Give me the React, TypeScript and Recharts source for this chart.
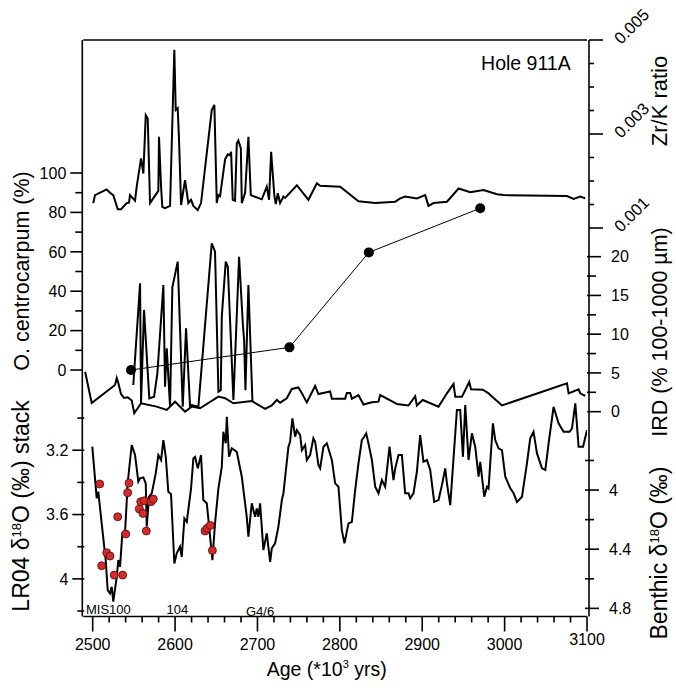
import { ComposedChart, Line, Scatter, XAxis, YAxis, ReferenceLine } from 'recharts';

// Zr/K ratio (Hole 911A) — [age ka, ratio]
const zrK: [number, number][] = [
  [2500.7, 0.00153], [2502.8, 0.0017], [2517.0, 0.00182], [2521.0, 0.00175], [2525.0, 0.0017],
  [2530.4, 0.0014], [2534.4, 0.0014], [2541.3, 0.00153], [2544.1, 0.00154], [2545.3, 0.0017],
  [2551.4, 0.00158], [2553.4, 0.00188], [2558.7, 0.00248], [2561.5, 0.00216], [2564.4, 0.0034],
  [2566.8, 0.00333], [2569.6, 0.00153], [2579.7, 0.00179], [2580.5, 0.00294], [2583.0, 0.00188],
  [2584.5, 0.00145], [2587.8, 0.00142], [2593.9, 0.00147], [2599.1, 0.00479], [2600.8, 0.00351],
  [2603.2, 0.00355], [2604.8, 0.00287], [2607.3, 0.00149], [2612.1, 0.00202], [2616.1, 0.00153],
  [2619.4, 0.0016], [2622.2, 0.00147], [2627.5, 0.00138], [2631.5, 0.00153], [2644.5, 0.00351],
  [2647.7, 0.00362], [2650.6, 0.00153], [2652.6, 0.0017], [2654.6, 0.00168], [2660.7, 0.00246],
  [2664.0, 0.00257], [2666.8, 0.00255], [2668.0, 0.00262], [2670.0, 0.0016], [2672.8, 0.00158],
  [2674.9, 0.0028], [2676.8, 0.00286], [2679.8, 0.0027], [2681.0, 0.00153], [2685.0, 0.00175],
  [2689.0, 0.00294], [2691.9, 0.0017], [2705.3, 0.00161], [2711.3, 0.00188], [2714.1, 0.0016],
  [2716.6, 0.00262], [2720.6, 0.00167], [2722.3, 0.00151], [2724.7, 0.00174], [2727.5, 0.00153],
  [2731.5, 0.00167], [2733.6, 0.00164], [2747.8, 0.00191], [2761.9, 0.0016], [2772.1, 0.00195],
  [2776.1, 0.0019], [2800.4, 0.00188], [2822.6, 0.00157], [2842.9, 0.00153], [2867.2, 0.00156],
  [2873.3, 0.00163], [2879.3, 0.00167], [2893.5, 0.00163], [2903.6, 0.0017], [2907.6, 0.00147],
  [2913.7, 0.00153], [2930.0, 0.00156], [2944.1, 0.00184], [2958.3, 0.00176], [2974.4, 0.00181],
  [2990.7, 0.00172], [2998.7, 0.0017], [3075.7, 0.00168], [3083.7, 0.00162], [3091.8, 0.00167],
  [3097.9, 0.00163],
];

// O. centrocarpum (%)
const oCent: [number, number][] = [
  [2549.3, -7.6], [2557.5, 44.0], [2558.7, -16.9], [2562.3, 30.5], [2568.7, -14.4], [2574.5, -13.6],
  [2578.5, -1.7], [2585.8, 43.1], [2587.8, -8.5], [2589.9, 11.0], [2593.9, -18.6], [2596.7, 42.0],
  [2603.2, 55.0], [2609.3, -18.6], [2613.3, 21.2], [2618.2, -18.6], [2620.2, -17.8], [2628.3, -18.6],
  [2644.5, 64.3], [2648.5, 60.1], [2652.6, -11.0], [2655.5, -10.2], [2656.7, 27.1], [2661.5, 55.0],
  [2664.0, 52.4], [2670.8, -15.2], [2677.7, 57.5], [2682.2, 23.7], [2683.8, 15.2], [2685.4, -10.2],
  [2689.0, 43.1], [2693.9, -16.1],
];

// sparse samples, black dots
const oCentDots: [number, number][] = [
  [2546.5, 0], [2738.8, 11.5], [2835.2, 59.7], [2970.4, 82.1],
];

// IRD (% 100-1000 µm)
const ird: [number, number][] = [
  [2490.8, 5.16], [2498.8, 1.12], [2527.1, 3.45], [2529.2, 4.35], [2531.1, 3.7], [2534.4, 2.28],
  [2538.0, 1.77], [2542.5, 1.86], [2547.4, 1.45], [2550.5, -0.21], [2558.7, 1.08], [2577.7, 0.65],
  [2589.9, 0.22], [2600.0, 1.29], [2612.1, 0.0], [2620.2, 0.65], [2630.3, 0.44], [2652.6, 1.94],
  [2660.7, 1.73], [2670.8, 1.08], [2693.1, 1.38], [2709.3, 0.35], [2717.4, 0.8], [2723.5, 1.51],
  [2727.5, 1.16], [2735.6, 1.73], [2741.7, 2.93], [2749.7, 3.12], [2753.9, 2.37], [2759.9, 1.19],
  [2770.0, 3.32], [2774.0, 2.28], [2788.2, 2.61], [2790.3, 1.68], [2806.4, 1.68], [2808.5, 2.41],
  [2812.5, 2.41], [2814.6, 1.68], [2822.6, 2.15], [2828.7, 0.93], [2838.9, 1.21], [2846.9, 1.29],
  [2849.0, 2.15], [2862.3, 1.38], [2869.2, 0.99], [2883.3, 0.8], [2891.5, 1.99], [2893.5, 0.8],
  [2900.6, 1.51], [2919.8, 0.65], [2930.0, 2.37], [2938.0, 3.57], [2940.1, 1.94], [2948.2, 1.94],
  [2957.1, 3.83], [2959.2, 2.9], [2973.5, 2.84], [2980.5, 2.37], [2982.6, 2.15], [2996.8, 0.8],
  [3075.7, 3.66], [3077.7, 2.37], [3089.8, 2.89], [3091.8, 2.37], [3097.9, 2.03],
];

// LR04 benthic d18O stack
const lr04: [number, number][] = [
  [2499.5, 3.178], [2504.9, 3.499], [2506.8, 3.458], [2510.9, 3.655], [2515.8, 3.883], [2518.2, 4.07],
  [2521.0, 4.09], [2523.1, 4.049], [2525.0, 4.142], [2529.2, 3.987], [2531.1, 3.883], [2533.2, 3.925],
  [2536.0, 3.717], [2539.2, 3.717], [2542.5, 3.406], [2544.1, 3.323], [2547.4, 3.168], [2551.4, 3.23],
  [2555.4, 3.396], [2557.5, 3.375], [2561.5, 3.369], [2564.4, 3.406], [2565.6, 3.676], [2568.4, 3.489],
  [2571.7, 3.468], [2576.5, 3.344], [2579.7, 3.23], [2583.0, 3.261], [2585.8, 3.137], [2588.7, 3.241],
  [2591.8, 3.458], [2595.1, 3.473], [2599.1, 3.904], [2602.0, 3.841], [2606.0, 3.8], [2608.1, 3.863],
  [2611.3, 3.624], [2614.2, 3.645], [2619.4, 3.437], [2622.2, 3.251], [2624.3, 3.241], [2627.5, 3.313],
  [2631.5, 3.23], [2634.3, 3.51], [2638.5, 3.53], [2644.5, 3.841], [2645.3, 3.883], [2648.5, 3.655],
  [2652.6, 3.437], [2656.7, 3.303], [2658.6, 3.085], [2661.5, 3.157], [2662.8, 2.992], [2665.5, 3.241],
  [2668.8, 3.188], [2674.9, 3.21], [2681.0, 3.365], [2687.0, 3.614], [2689.0, 3.738], [2693.1, 3.53],
  [2697.1, 3.614], [2699.2, 3.562], [2701.1, 3.614], [2703.2, 3.53], [2707.2, 3.821], [2711.3, 3.717],
  [2715.4, 3.894], [2717.4, 3.81], [2721.4, 3.779], [2725.4, 3.676], [2729.6, 3.51], [2731.5, 3.468],
  [2737.6, 3.178], [2739.6, 3.147], [2742.4, 3.002], [2745.7, 3.116], [2747.8, 3.075], [2751.8, 3.106],
  [2753.9, 3.199], [2757.9, 3.168], [2759.9, 3.261], [2763.9, 3.23], [2767.9, 3.126], [2770.0, 3.147],
  [2774.0, 3.292], [2776.1, 3.313], [2780.1, 3.178], [2784.2, 3.157], [2790.3, 3.261], [2794.3, 3.406],
  [2798.3, 3.427], [2802.4, 3.697], [2805.6, 3.779], [2810.5, 3.655], [2814.6, 3.645], [2818.6, 3.448],
  [2822.6, 3.282], [2826.7, 3.137], [2829.5, 3.116], [2832.0, 3.095], [2834.7, 3.157], [2838.9, 3.261],
  [2842.9, 3.427], [2846.9, 3.468], [2851.0, 3.386], [2855.0, 3.427], [2860.3, 3.178], [2865.1, 3.386],
  [2867.2, 3.313], [2871.2, 3.23], [2875.3, 3.23], [2879.3, 3.468], [2883.3, 3.468], [2885.4, 3.499],
  [2889.4, 3.468], [2893.5, 3.334], [2897.5, 3.106], [2901.5, 3.272], [2905.7, 3.261], [2909.7, 3.323],
  [2914.5, 3.521], [2919.8, 3.51], [2923.9, 3.417], [2927.9, 3.313], [2930.0, 3.406], [2934.0, 3.541],
  [2942.1, 2.95], [2946.1, 2.95], [2949.4, 3.241], [2952.2, 2.919], [2956.2, 3.261], [2960.3, 3.095],
  [2964.3, 3.178], [2968.4, 3.365], [2970.4, 3.272], [2975.3, 3.489], [2978.6, 3.427], [2980.5, 3.437],
  [2985.8, 3.033], [2988.6, 3.137], [2992.6, 3.188], [2996.8, 3.199], [3000.8, 3.365], [3006.9, 3.437],
  [3010.9, 3.468], [3015.0, 3.521], [3021.1, 3.489], [3027.1, 3.282], [3031.1, 3.126], [3035.1, 3.085],
  [3039.3, 3.22], [3045.4, 3.313], [3049.4, 3.323], [3053.4, 3.157], [3059.4, 2.93], [3065.5, 3.033],
  [3071.6, 3.085], [3078.9, 3.085], [3081.8, 3.064], [3085.8, 2.909], [3089.8, 3.178], [3095.2, 3.178],
  [3100.0, 3.075],
];

// Hole 911A benthic d18O (red dots)
const benthic: [number, number][] = [
  [2508.5, 3.959], [2510.9, 4.512], [2517.0, 4.424], [2521.0, 4.446], [2526.2, 4.575], [2530.4, 4.181],
  [2536.4, 4.575], [2540.1, 4.297], [2542.5, 4.018], [2544.1, 3.953], [2556.6, 4.128], [2558.3, 4.079],
  [2561.1, 4.158], [2562.7, 4.072], [2565.1, 4.277], [2570.8, 4.079], [2573.6, 4.061], [2636.4, 4.277],
  [2638.8, 4.259], [2642.8, 4.239], [2645.3, 4.408],
];

// axis ticks
const xMajor = [2500, 2600, 2700, 2800, 2900, 3000, 3100];
const xTicks = Array.from({ length: 31 }, (_, i) => 2500 + i * 20);
const ocTicks = [0, 10, 20, 30, 40, 50, 60, 70, 80, 90, 100];
const ocLabels = [0, 20, 40, 60, 80, 100];
const lrTicks = [3.0, 3.2, 3.4, 3.6, 3.8, 4.0, 4.2];
const lrLabels = [3.2, 3.6, 4.0];
const zrTicks = [0.001, 0.0015, 0.002, 0.0025, 0.003, 0.0035, 0.004, 0.0045, 0.005];
const zrLabels = [0.001, 0.003, 0.005];
const irdTicks = [0, 2.5, 5, 7.5, 10, 12.5, 15, 17.5, 20];
const irdLabels = [0, 5, 10, 15, 20];
const bnTicks = [3.8, 4.0, 4.2, 4.4, 4.6, 4.8];
const bnLabels = [4.0, 4.4, 4.8];

const rows = (pts: [number, number][]) => pts.map(([age, v]) => ({ age, v }));
const isIn = (v: number, list: number[]) => list.some((l) => Math.abs(l - v) < 1e-9);
const FONT = 'Arial, "Liberation Sans", sans-serif';
const ST = 1.6;

const LeftTick = (props: any) => {
  const { y, payload, labels, fmt, shift } = props;
  const x = props.x + shift;
  const v = payload.value;
  const major = isIn(v, labels);
  return (
    <g>
      <line x1={x - (major ? 12 : 7)} x2={x} y1={y} y2={y} stroke="#000" strokeWidth={ST} />
      {major && (
        <text x={x - 16} y={y} dy="0.36em" textAnchor="end" fontSize={16} fill="#000" fontFamily={FONT}>{fmt(v)}</text>
      )}
    </g>
  );
};

const RightTick = (props: any) => {
  const { y, payload, labels, fmt, minor, rotate, shift } = props;
  const x = props.x + shift;
  const v = payload.value;
  const major = isIn(v, labels);
  return (
    <g>
      <line x1={x} x2={x + (major ? 14 : minor)} y1={y} y2={y} stroke="#000" strokeWidth={ST} />
      {major && (rotate ? (
        <text transform={`translate(${x + 32},${y + 5}) rotate(-45)`} fontSize={16.5} fill="#000" fontFamily={FONT}>{fmt(v)}</text>
      ) : (
        <text x={x + 24} y={y} dy="0.36em" fontSize={16} fill="#000" fontFamily={FONT}>{fmt(v)}</text>
      ))}
    </g>
  );
};

const BottomTick = (props: any) => {
  const { x, y, payload } = props;
  const v = payload.value;
  const major = isIn(v, xMajor);
  return (
    <g>
      <line x1={x} x2={x} y1={y} y2={y + (major ? 15 : 6)} stroke="#000" strokeWidth={ST} />
      {major && (
        <text x={x} y={y + (v === 3100 ? 28.5 : 33.5)} textAnchor="middle" fontSize={16} fill="#000" fontFamily={FONT}>{v}</text>
      )}
    </g>
  );
};

const dec1 = (v: number) => (Math.abs(v - 4) < 1e-9 ? '4' : v.toFixed(1));
const int0 = (v: number) => String(Math.round(v));

const RedDot = (p: any) => (
  <circle cx={p.cx} cy={p.cy} r={4} fill="#d42a2a" stroke="#4a0b0b" strokeWidth={0.8} />
);

export default function App() {
  const W = 676;
  const H = 691;
  const axisLine = { stroke: '#000', strokeWidth: ST };
  const common = { width: 1, type: 'number' as const, interval: 0, tickSize: 0, tickMargin: 0, tickLine: false, allowDataOverflow: true };

  return (
    <div style={{ position: 'absolute', left: 0, top: 0, width: W, height: H, background: '#fff' }}>
      <ComposedChart width={W} height={H} margin={{ top: 40, right: 86, bottom: 73.5, left: 81.3 }}>
        <XAxis
          type="number" dataKey="age" domain={[2488.6, 3100]} ticks={xTicks} interval={0}
          height={1} tickSize={0} tickMargin={0} tickLine={false} axisLine={axisLine}
          tick={BottomTick} allowDataOverflow
        />
        <YAxis yAxisId="oc" orientation="left" {...common} domain={[-125.1, 167.5]} ticks={ocTicks}
          axisLine={axisLine} tick={(p: any) => <LeftTick {...p} labels={ocLabels} fmt={int0} shift={0} />} />
        <YAxis yAxisId="lr" orientation="left" reversed {...common} domain={[0.649, 4.234]} ticks={lrTicks}
          axisLine={false} tick={(p: any) => <LeftTick {...p} labels={lrLabels} fmt={dec1} shift={1} />} />
        <YAxis yAxisId="zr" orientation="right" {...common} domain={[-0.007266, 0.005]} ticks={zrTicks}
          axisLine={axisLine} tick={(p: any) => <RightTick {...p} labels={zrLabels} fmt={(v: number) => v.toFixed(3)} minor={5} rotate shift={0} />} />
        <YAxis yAxisId="ird" orientation="right" {...common} domain={[-26.43, 47.96]} ticks={irdTicks}
          axisLine={false} tick={(p: any) => <RightTick {...p} labels={irdLabels} fmt={int0} minor={9} shift={-1} />} />
        <YAxis yAxisId="bn" orientation="right" reversed {...common} dataKey="v" domain={[0.957, 4.855]} ticks={bnTicks}
          axisLine={false} tick={(p: any) => <RightTick {...p} labels={bnLabels} fmt={dec1} minor={9} shift={-2} />} />

        <ReferenceLine yAxisId="zr" y={0.005} stroke="#000" strokeWidth={ST} ifOverflow="visible" />

        <Line data={rows(zrK)} yAxisId="zr" dataKey="v" type="linear" stroke="#000" strokeWidth={2} dot={false} activeDot={false} isAnimationActive={false} />
        <Line data={rows(ird)} yAxisId="ird" dataKey="v" type="linear" stroke="#000" strokeWidth={2} dot={false} activeDot={false} isAnimationActive={false} />
        <Line data={rows(oCent)} yAxisId="oc" dataKey="v" type="linear" stroke="#000" strokeWidth={2} dot={false} activeDot={false} isAnimationActive={false} />
        <Line data={rows(oCentDots)} yAxisId="oc" dataKey="v" type="linear" stroke="#000" strokeWidth={1} dot={{ r: 5, fill: '#000', stroke: '#000', strokeWidth: 0 }} activeDot={false} isAnimationActive={false} />
        <Line data={rows(lr04)} yAxisId="lr" dataKey="v" type="linear" stroke="#000" strokeWidth={2} dot={false} activeDot={false} isAnimationActive={false} />
        <Scatter data={rows(benthic)} yAxisId="bn" dataKey="v" shape={RedDot} isAnimationActive={false} />
      </ComposedChart>

      <svg width={W} height={H} style={{ position: 'absolute', left: 0, top: 0, pointerEvents: 'none' }} fontFamily={FONT} fill="#000">
        <text x={570.7} y={70} fontSize={19.5} textAnchor="end">Hole 911A</text>
        <text x={326.7} y={676} fontSize={19.5} textAnchor="middle">
          Age (*10<tspan fontSize={11} dy={-8}>3</tspan><tspan dy={8}> yrs)</tspan>
        </text>
        <text transform="translate(29,271) rotate(-90)" fontSize={21.5} textAnchor="middle">O. centrocarpum (%)</text>
        <text transform="translate(29,506) rotate(-90)" fontSize={23} textAnchor="middle">
          LR04 δ<tspan fontSize={13} dy={-8}>18</tspan><tspan dy={8}>O (‰) stack</tspan>
        </text>
        <text transform="translate(667,101) rotate(-90)" fontSize={22} textAnchor="middle">Zr/K ratio</text>
        <text transform="translate(667,332) rotate(-90)" fontSize={21.5} textAnchor="middle">IRD (% 100-1000 µm)</text>
        <text transform="translate(667,553) rotate(-90)" fontSize={23} textAnchor="middle">
          Benthic  δ<tspan fontSize={13} dy={-8}>18</tspan><tspan dy={8}>O (‰)</tspan>
        </text>
        <text x={86} y={614} fontSize={13}>MIS100</text>
        <text x={166.5} y={614} fontSize={13}>104</text>
        <text x={246} y={615.5} fontSize={13}>G4/6</text>
      </svg>
    </div>
  );
}
